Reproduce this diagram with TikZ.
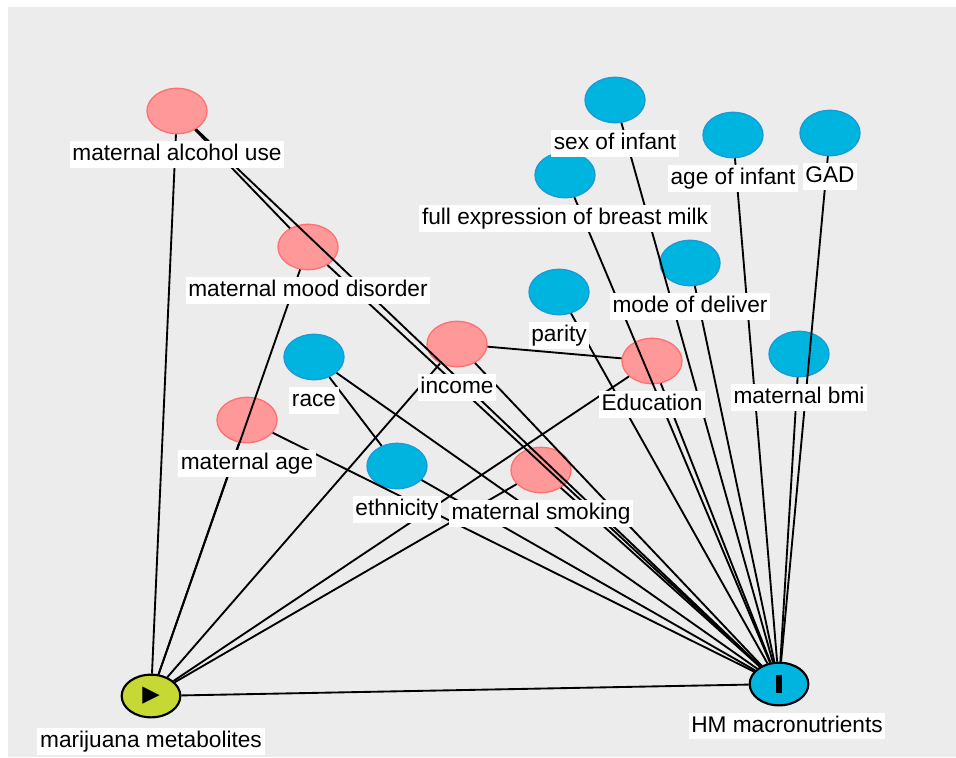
\documentclass[tikz,border=0pt]{standalone}
\usepackage{fontspec}
\setmainfont{Liberation Sans}
\newfontfamily\iconfont{DejaVu Sans}
\usepackage{tikz}
\usetikzlibrary{positioning, shapes.geometric}
\definecolor{bggray}{HTML}{ECECEC}
\definecolor{adjred}{HTML}{FF9999}
\definecolor{adjredline}{HTML}{FF7070}
\definecolor{covblue}{HTML}{00B4E0}
\definecolor{covblueline}{HTML}{1A9BD7}
\definecolor{expgreen}{HTML}{C5D834}

\begin{document}
\begin{tikzpicture}[
    x=0.75pt, y=-0.75pt,
    var/.style={ellipse, minimum width=45pt, minimum height=34pt, inner sep=0pt, line width=1pt},
    redvar/.style={var, fill=adjred, draw=adjredline},
    bluevar/.style={var, fill=covblue, draw=covblueline},
    endvar/.style={var, draw=black, line width=1.6pt, minimum width=44pt, minimum height=32pt},
    lbl/.style={fill=white, inner xsep=2pt, inner ysep=2pt, text height=12.5pt, text depth=3.5pt,
        font=\fontsize{17}{20}\selectfont},
    edge/.style={line width=1.4pt}
]
    \useasboundingbox (0,0) rectangle (956,757);
    \fill[bggray] (8,7) rectangle (956,757);

    % variables
    \node[redvar] (alc) at (177,111) {};
    \node[redvar] (mood) at (308,247) {};
    \node[redvar] (inc) at (457,344) {};
    \node[redvar] (edu) at (652,361) {};
    \node[redvar] (mage) at (247,420) {};
    \node[redvar] (smk) at (541,470) {};
    \node[bluevar] (sex) at (615,100) {};
    \node[bluevar] (agei) at (733,135) {};
    \node[bluevar] (gad) at (830,133) {};
    \node[bluevar] (full) at (565,175) {};
    \node[bluevar] (mode) at (690,263) {};
    \node[bluevar] (par) at (559,292) {};
    \node[bluevar] (race) at (314,357) {};
    \node[bluevar] (bmi) at (799,354) {};
    \node[bluevar] (eth) at (397,466) {};
    \node[endvar, fill=expgreen] (M) at (151,696) {\iconfont\fontsize{17}{17}\selectfont ▶};
    \node[endvar, fill=covblue] (Y) at (779,684) {\raisebox{-6.75pt}{\rule{4.5pt}{13.5pt}}};

    % edges
    \foreach \v in {alc, mood, mage, inc, edu, smk, Y}
        \draw[edge] (M) -- (\v);
    \foreach \v in {alc, mood, mage, inc, race, eth, smk, edu, par, full, sex, mode, agei, gad, bmi}
        \draw[edge] (\v) -- (Y);
    \draw[edge] (alc) -- (mood);
    \draw[edge] (inc) -- (edu);
    \draw[edge] (race) -- (eth);

    % labels
    \node[lbl, below=5pt of alc] (alc-lbl) {maternal alcohol use};
    \node[lbl, below=5pt of mood] (mood-lbl) {maternal mood disorder};
    \node[lbl, below=5pt of inc] (inc-lbl) {income};
    \node[lbl, below=5pt of edu] (edu-lbl) {Education};
    \node[lbl, below=5pt of mage] (mage-lbl) {maternal age};
    \node[lbl, below=5pt of smk] (smk-lbl) {maternal smoking};
    \node[lbl, below=5pt of sex] (sex-lbl) {sex of infant};
    \node[lbl, below=5pt of agei] (agei-lbl) {age of infant};
    \node[lbl, below=5pt of gad] (gad-lbl) {GAD};
    \node[lbl, below=5pt of full] (full-lbl) {full expression of breast milk};
    \node[lbl, below=5pt of mode] (mode-lbl) {mode of deliver};
    \node[lbl, below=5pt of par] (par-lbl) {parity};
    \node[lbl, below=5pt of race] (race-lbl) {race};
    \node[lbl, below=5pt of bmi] (bmi-lbl) {maternal bmi};
    \node[lbl, below=5pt of eth] (eth-lbl) {ethnicity};
    \node[lbl, below=7pt of M] (M-lbl) {marijuana metabolites};
    \node[lbl, below=4.5pt of Y, xshift=6pt] (Y-lbl) {HM macronutrients};
\end{tikzpicture}
\end{document}
